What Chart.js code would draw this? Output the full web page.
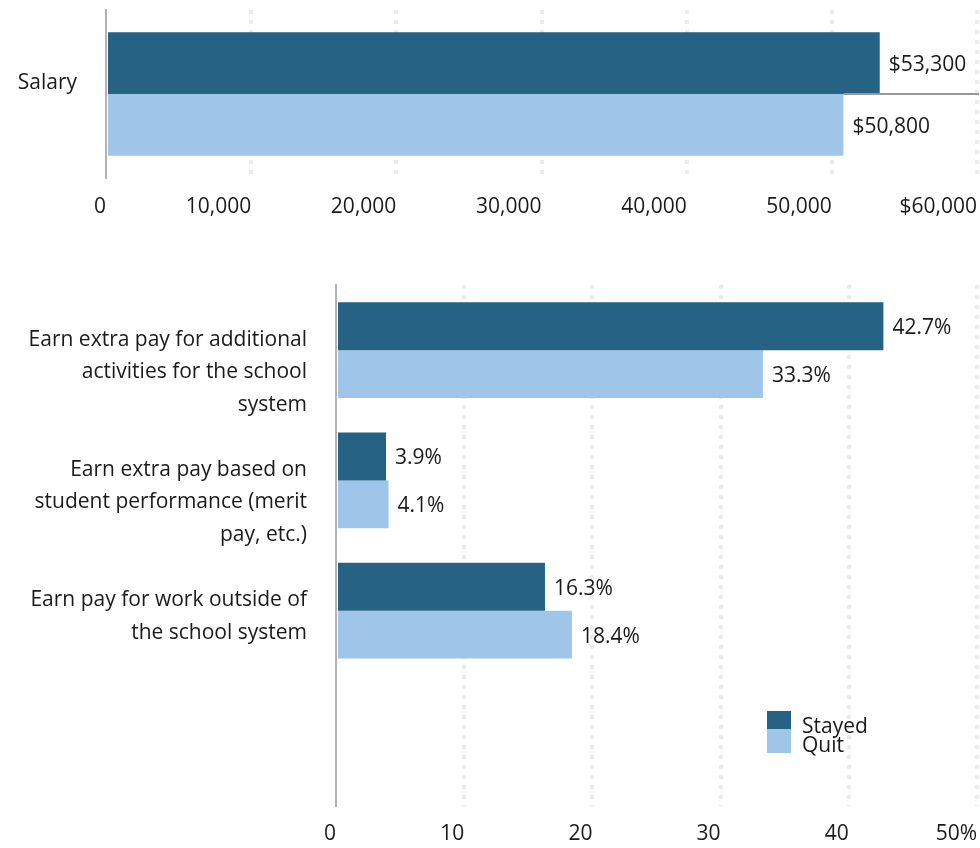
<!DOCTYPE html>
<html>

<head>
  <meta charset="UTF-8">
  <title>Salary and extra pay: stayed vs quit</title>
  <script src="https://cdn.jsdelivr.net/npm/chart.js"></script>
  <style>
    body {
      margin: 0;
      background: #fff;
      font-family: "Open Sans", sans-serif;
      color: #1a1a1a;
    }

    #wrap {
      position: relative;
      width: 980px;
      height: 848px;
    }

    #topBox {
      position: absolute;
      left: 0;
      top: 0;
      width: 980px;
      height: 232px;
    }

    #bottomBox {
      position: absolute;
      left: 0;
      top: 232px;
      width: 980px;
      height: 616px;
    }

    .swatch {
      position: absolute;
      left: 767px;
      width: 24px;
    }

    .legend-text {
      position: absolute;
      left: 802px;
      font-size: 21px;
      line-height: 20px;
    }
  </style>
</head>

<body>
  <div id="wrap">
    <div id="topBox"><canvas id="salaryChart"></canvas></div>
    <div id="bottomBox"><canvas id="payChart"></canvas></div>
    <div id="legend"></div>
  </div>

  <script>
    // data
    const seriesNames = ['Stayed', 'Quit'];
    const seriesColors = ['#266283', '#9fc5e8'];

    const salaryCategories = ['Salary'];
    const salaryStayed = [53300];
    const salaryQuit = [50800];
    const salaryTickLabels = ['0', '10,000', '20,000', '30,000', '40,000', '50,000', '$60,000'];

    const payCategories = [
      ['Earn extra pay for additional', 'activities for the school', 'system'],
      ['Earn extra pay based on', 'student performance (merit', 'pay, etc.)'],
      ['Earn pay for work outside of', 'the school system'],
      ''
    ];
    const payStayed = [42.7, 3.9, 16.3, null];
    const payQuit = [33.3, 4.1, 18.4, null];
    const payTickLabels = ['0', '10', '20', '30', '40', '50%'];

    const FONT = '"Open Sans"';
    const SIZE = 21;
    const TEXT = '#1a1a1a';

    // value labels at the end of each bar
    const valueLabels = {
      id: 'valueLabels',
      afterDatasetsDraw(chart, args, opts) {
        const ctx = chart.ctx;
        ctx.save();
        ctx.font = SIZE + 'px ' + FONT;
        ctx.fillStyle = TEXT;
        ctx.textBaseline = 'middle';
        ctx.textAlign = 'left';
        chart.data.datasets.forEach((ds, di) => {
          chart.getDatasetMeta(di).data.forEach((bar, i) => {
            const v = ds.data[i];
            if (v == null) return;
            ctx.fillText(opts.format(v), bar.x + 9, bar.y + 2);
          });
        });
        ctx.restore();
      }
    };

    // thin gray rule between the salary bars, from the shorter bar to the edge
    const salaryRule = {
      id: 'salaryRule',
      afterDatasetsDraw(chart) {
        const bar = chart.getDatasetMeta(1).data[0];
        const ctx = chart.ctx;
        ctx.save();
        ctx.strokeStyle = '#999';
        ctx.lineWidth = 2;
        ctx.beginPath();
        ctx.moveTo(bar.x, bar.y - bar.height / 2);
        ctx.lineTo(chart.chartArea.right + 2, bar.y - bar.height / 2);
        ctx.stroke();
        ctx.restore();
      }
    };

    // pad multi-line labels so the first line sits at the category centre
    function padLabel(label) {
      const lines = Array.isArray(label) ? label : [label];
      return Array(lines.length - 1).fill('').concat(lines);
    }

    function makeDatasets(stayed, quit) {
      return [stayed, quit].map((data, i) => ({
        label: seriesNames[i],
        data: data,
        backgroundColor: seriesColors[i],
        barPercentage: 1,
        categoryPercentage: 0.735
      }));
    }

    function makeOptions(cfg) {
      return {
        indexAxis: 'y',
        responsive: true,
        maintainAspectRatio: false,
        animation: false,
        layout: { padding: cfg.padding },
        plugins: {
          legend: { display: false },
          tooltip: { enabled: false },
          valueLabels: { format: cfg.format }
        },
        scales: {
          x: {
            min: 0,
            max: cfg.max,
            afterFit: s => { s.height = cfg.tickPad + 24; s.paddingLeft = 0; s.paddingRight = 0; },
            ticks: {
              stepSize: cfg.step,
              align: 'end',
              padding: cfg.tickPad,
              color: TEXT,
              font: { family: FONT, size: SIZE, lineHeight: 1.15 },
              callback: (v, i) => cfg.tickLabels[i]
            },
            grid: {
              color: c => c.tick && c.tick.value === 0 ? 'rgba(0,0,0,0)' : '#ebebeb',
              lineWidth: 4,
              drawTicks: false
            },
            border: { display: false, dash: [4, 6] }
          },
          y: {
            afterFit: s => { s.width = cfg.axisLeft; s.paddingTop = 0; s.paddingBottom = 0; },
            ticks: {
              autoSkip: false,
              align: 'end',
              padding: 29,
              color: TEXT,
              font: { family: FONT, size: SIZE, lineHeight: 32.5 / SIZE },
              callback: function (v) { return padLabel(this.getLabelForValue(v)); }
            },
            grid: { display: false, drawTicks: false },
            border: { display: true, color: '#b3b3b3', width: 2 }
          }
        }
      };
    }

    new Chart(document.getElementById('salaryChart'), {
      type: 'bar',
      data: { labels: salaryCategories, datasets: makeDatasets(salaryStayed, salaryQuit) },
      options: makeOptions({
        padding: { top: 10, bottom: 13, right: 3, left: 0 },
        max: 60000,
        step: 10000,
        tickPad: 17,
        tickLabels: salaryTickLabels,
        axisLeft: 106,
        format: v => '$' + v.toLocaleString('en-US')
      }),
      plugins: [valueLabels, salaryRule]
    });

    new Chart(document.getElementById('payChart'), {
      type: 'bar',
      data: { labels: payCategories, datasets: makeDatasets(payStayed, payQuit) },
      options: makeOptions({
        padding: { top: 53, bottom: 2, right: 3, left: 0 },
        max: 50,
        step: 10,
        tickPad: 16,
        tickLabels: payTickLabels,
        axisLeft: 336,
        format: v => v.toFixed(1) + '%'
      }),
      plugins: [valueLabels]
    });

    // legend overlaid inside the lower chart
    const legend = document.getElementById('legend');
    const swatchTops = [711, 729];
    const swatchHeights = [18, 24];
    const textTops = [715, 734];
    seriesNames.forEach((name, i) => {
      const sw = document.createElement('div');
      sw.className = 'swatch';
      sw.style.top = swatchTops[i] + 'px';
      sw.style.height = swatchHeights[i] + 'px';
      sw.style.background = seriesColors[i];
      legend.appendChild(sw);
      const tx = document.createElement('div');
      tx.className = 'legend-text';
      tx.style.top = textTops[i] + 'px';
      tx.textContent = name;
      legend.appendChild(tx);
    });
  </script>
</body>

</html>
